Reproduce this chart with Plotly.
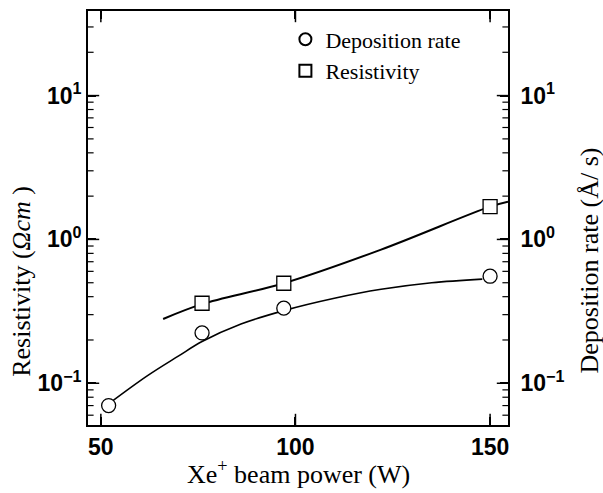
import plotly.graph_objects as go

# Data
power_dep = [52, 76, 97, 150]
dep_rate = [0.070, 0.224, 0.333, 0.555]

power_res = [76, 97, 150]
resistivity = [0.36, 0.496, 1.69]

# fitted curves
dep_curve_x = [52, 62, 70, 76, 86, 97, 110, 122, 135, 148]
dep_curve_y = [0.072, 0.113, 0.155, 0.195, 0.258, 0.32, 0.39, 0.45, 0.50, 0.53]

res_curve_x = [66, 76, 97, 122, 150, 154.6]
res_curve_y = [0.28, 0.355, 0.496, 0.85, 1.69, 1.83]

x_ticks = [50, 100, 150]
y_tickvals = [0.1, 1, 10]
y_ticktext = ["10<sup>\u22121</sup>", "10<sup>0</sup>", "10<sup>1</sup>"]
minor_vals = [m * 10 ** k for k in (-2, -1, 0, 1) for m in range(2, 10)]

x_range = [46.7, 154.6]
y_range = [-1.29, 1.588]

tick_font = dict(family="Liberation Sans, Arial", size=23, color="black", weight="bold")
title_font = dict(family="Liberation Serif, Times New Roman", size=26, color="black")

fig = go.Figure()

fig.add_trace(go.Scatter(x=res_curve_x, y=res_curve_y, mode="lines", line=dict(color="black", width=2, shape="spline"),
                         showlegend=False, hoverinfo="skip"))
fig.add_trace(go.Scatter(x=dep_curve_x, y=dep_curve_y, mode="lines", line=dict(color="black", width=1.6, shape="spline"),
                         showlegend=False, hoverinfo="skip", yaxis="y2"))
fig.add_trace(go.Scatter(x=power_dep, y=dep_rate, mode="markers", name="Deposition rate", yaxis="y2",
                         marker=dict(symbol="circle", size=14, color="white", line=dict(color="black", width=1.3))))
fig.add_trace(go.Scatter(x=power_res, y=resistivity, mode="markers", name="Resistivity",
                         marker=dict(symbol="square", size=14, color="white", line=dict(color="black", width=1.3))))

# tick marks on the frame, drawn as clipped line markers (only the inner half shows)
y_lo, y_hi = 10 ** y_range[0], 10 ** y_range[1]
vis_minor = [v for v in minor_vals if y_lo <= v <= y_hi]
for xe in x_range:
    fig.add_trace(go.Scatter(x=[xe] * len(y_tickvals), y=y_tickvals, mode="markers", showlegend=False,
                             hoverinfo="skip", cliponaxis=True,
                             marker=dict(symbol="line-ew", size=16, color="black",
                                         line=dict(color="black", width=1.5))))
    fig.add_trace(go.Scatter(x=[xe] * len(vis_minor), y=vis_minor, mode="markers", showlegend=False,
                             hoverinfo="skip", cliponaxis=True,
                             marker=dict(symbol="line-ew", size=8, color="black",
                                         line=dict(color="black", width=1.2))))
for ye in (y_lo, y_hi):
    fig.add_trace(go.Scatter(x=x_ticks, y=[ye] * len(x_ticks), mode="markers", showlegend=False,
                             hoverinfo="skip", cliponaxis=True,
                             marker=dict(symbol="line-ns", size=16, color="black",
                                         line=dict(color="black", width=1.5))))

axis_common = dict(showgrid=False, zeroline=False, showline=True, linecolor="black", linewidth=1.8,
                   ticks="inside", ticklen=8, tickwidth=1.5, tickcolor="black")

fig.update_layout(
    width=603, height=493,
    margin=dict(l=88, r=95, t=9, b=68),
    paper_bgcolor="white", plot_bgcolor="white",
    xaxis=dict(range=x_range, tickvals=x_ticks, tickfont=tick_font, mirror="ticks", **axis_common),
    yaxis=dict(type="log", range=y_range, tickvals=y_tickvals, ticktext=y_ticktext, tickfont=tick_font,
               **axis_common),
    yaxis2=dict(type="log", range=y_range, overlaying="y", side="right", tickvals=y_tickvals, ticktext=y_ticktext,
                tickfont=tick_font, ticklabelstandoff=6, **axis_common),
    legend=dict(x=0.47, y=0.982, xanchor="left", yanchor="top", bgcolor="rgba(0,0,0,0)",
                font=dict(family="Liberation Serif, Times New Roman", size=22, color="black"),
                itemsizing="constant", tracegroupgap=0),
    annotations=[
        dict(text="Xe<sup>+</sup> beam power (W)", xref="paper", yref="paper", x=0.5, y=-0.115,
             xanchor="center", yanchor="middle", showarrow=False, font=title_font),
        dict(text="Resistivity (<i>\u03a9cm</i> )", xref="paper", yref="paper", x=-0.157, y=0.346,
             xanchor="center", yanchor="middle", textangle=-90, showarrow=False, font=title_font),
        dict(text="Deposition rate (\u00c5/ s)", xref="paper", yref="paper", x=1.195, y=0.397,
             xanchor="center", yanchor="middle", textangle=-90, showarrow=False, font=title_font),
    ],
)

fig.write_html("out.html")
